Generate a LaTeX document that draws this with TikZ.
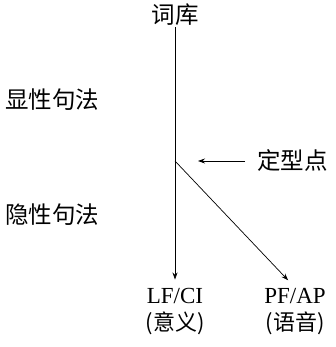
\documentclass[tikz,border=0pt]{standalone}
\usepackage{fontspec}
\setmainfont{Liberation Serif}
\newfontfamily\cjk{Noto Sans CJK SC}
\usetikzlibrary{arrows.meta}
\tikzset{
  zh/.style={font=\fontsize{23.5}{27}\selectfont\cjk, inner sep=1pt},
  lv/.style={font=\fontsize{23}{27}\selectfont, align=center, inner sep=1pt},
  pil/.style={-{Stealth[length=7pt,width=5pt]}, line width=0.7pt}
}
\begin{document}
\begin{tikzpicture}[x=1pt,y=1pt]
\useasboundingbox (0,0) rectangle (335,347);

\node[zh] (lex) at (175,332) {词库};
\coordinate (sp) at (175,186);
\node[lv] (lf) at (175,35) {LF/CI\\{\cjk\fontsize{22}{27}\selectfont(意义)}};
\node[lv] (pf) at (295,35) {PF/AP\\{\cjk\fontsize{22}{27}\selectfont(语音)}};
\node[zh,anchor=west] (overt) at (4,247) {显性句法};
\node[zh,anchor=west] (covert) at (4,132) {隐性句法};
\node[zh,anchor=west] (spell) at (256,186) {定型点};
\coordinate (pt) at (198,186);

\draw[line width=0.7pt] (lex.south) -- (sp);
\draw[pil,shorten >=8pt] (sp) -- (lf.north);
\draw[pil,shorten >=10pt] (sp) -- (pf.north);
\draw[pil] (spell.west)+(-11,0) -- (pt);

\end{tikzpicture}
\end{document}
